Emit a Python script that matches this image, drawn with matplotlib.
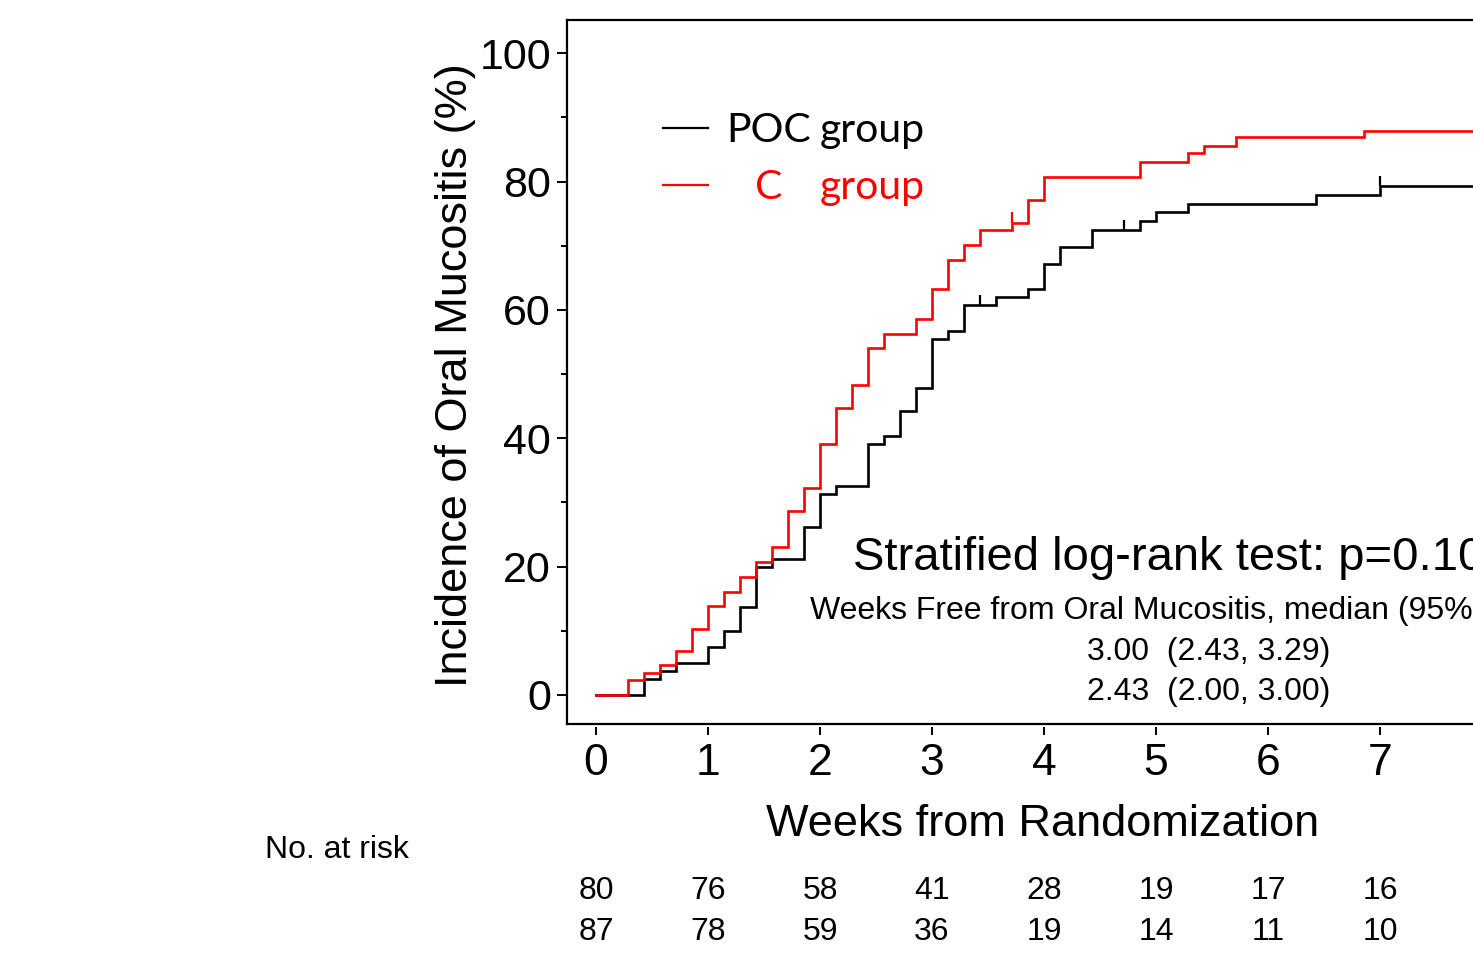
import matplotlib
matplotlib.use("Agg")
import matplotlib.pyplot as plt
import numpy as np
from matplotlib.lines import Line2D

# ---------------- data ----------------
# event days (since randomization) and cumulative incidence (%)
poc_days = [0, 3, 4, 5, 7, 8, 9, 10, 11, 13, 14, 15, 17, 18, 19, 20, 21, 22, 23,
            25, 27, 28, 29, 31, 34, 35, 37, 45, 49, 58]
poc_inc = [0, 2.5, 3.75, 5.0, 7.5, 10.0, 13.75, 20.0, 21.2, 26.2, 31.3, 32.6, 39.1,
           40.4, 44.2, 47.9, 55.4, 56.8, 60.7, 62.1, 63.3, 67.2, 69.8, 72.5, 73.8,
           75.2, 76.5, 77.9, 79.3, 79.3]
c_days = [0, 2, 3, 4, 5, 6, 7, 8, 9, 10, 11, 12, 13, 14, 15, 16, 17, 18, 20, 21,
          22, 23, 24, 26, 27, 28, 34, 37, 38, 40, 48, 58]
c_inc = [0, 2.3, 3.4, 4.6, 6.9, 10.3, 13.8, 16.1, 18.4, 20.7, 23.0, 28.7, 32.2,
         39.1, 44.8, 48.3, 54.0, 56.3, 58.6, 63.2, 67.8, 70.1, 72.4, 73.6, 77.2,
         80.8, 83.1, 84.4, 85.6, 86.9, 87.9, 87.9]
# censored observations
poc_cens_days = [24, 33, 49]
poc_cens_inc = [60.7, 72.5, 79.3]
c_cens_days = [26]
c_cens_inc = [73.6]

xticks = [0, 1, 2, 3, 4, 5, 6, 7]
yticks = [0, 20, 40, 60, 80, 100]
risk_poc = [80, 76, 58, 41, 28, 19, 17, 16]
risk_c = [87, 78, 59, 36, 19, 14, 11, 10]

legend_labels = ["POC", "C"]
stat_text = "Stratified log-rank test: p=0.10"
median_header = "Weeks Free from Oral Mucositis, median (95% CI)"
median_rows = ["3.00  (2.43, 3.29)", "2.43  (2.00, 3.00)"]

# ---------------- figure ----------------
W, H = 1473, 955
fig = plt.figure(figsize=(W / 100, H / 100), dpi=100)
FONT = "Liberation Sans"
plt.rcParams["font.family"] = FONT


def fx(x):
    return x / W


def fy(y):
    return 1 - y / H


left_px, top_px, bot_px = 567, 20, 724
xmin = -29 / 112
xmax = xmin + 952 / 112
ax = fig.add_axes([fx(left_px), fy(bot_px), (952) / W, (bot_px - top_px) / H])
ax.set_xlim(xmin, xmax)
ymin = (695 - 724) / 6.417
ymax = (695 - 20) / 6.417
ax.set_ylim(ymin, ymax)

poc_w = np.array(poc_days) / 7.0
c_w = np.array(c_days) / 7.0
ax.step(poc_w, poc_inc, where="post", color="black", lw=1.9, solid_joinstyle="miter")
ax.step(c_w, c_inc, where="post", color="#ff0000", lw=1.9, solid_joinstyle="miter")
ch = 1.6
ax.vlines(np.array(poc_cens_days) / 7.0, poc_cens_inc, np.array(poc_cens_inc) + ch,
          color="black", lw=1.6)
ax.vlines(np.array(c_cens_days) / 7.0, c_cens_inc, np.array(c_cens_inc) + ch,
          color="#ff0000", lw=1.6)

# spines / ticks
for s in ["left", "top", "right"]:
    ax.spines[s].set_linewidth(1.6)
ax.spines["bottom"].set_visible(False)
ax.spines["bottom"].set_position(("outward", 2.0))
ax.plot([0, 1], [0, 0], transform=ax.transAxes, color="black", lw=1.6,
        clip_on=False, solid_capstyle="projecting")

ax.set_xticks(xticks)
ax.set_xticklabels([str(t) for t in xticks])
ax.set_yticks(yticks)
ax.set_yticks([10, 30, 50, 70, 90], minor=True)
ax.tick_params(axis="x", direction="out", length=5.5, width=1.4, pad=6,
               labelsize=32)
ax.tick_params(axis="y", which="major", direction="out", length=7.5, width=1.4,
               pad=4, labelsize=31)
ax.tick_params(axis="y", which="minor", direction="out", length=4.3, width=1.4)

# axis labels
fig.text(fx(1043), fy(836), "Weeks from Randomization", fontsize=32.5,
         ha="center", va="baseline")
fig.text(fx(456), fy(375), "Incidence of Oral Mucositis (%)", fontsize=32.5,
         rotation=90, ha="center", va="center")

# legend (manual)
for lab, col, ly, base in [(legend_labels[0], "black", 128, 142),
                           (legend_labels[1], "#ff0000", 185, 199)]:
    fig.add_artist(Line2D([fx(663), fx(708)], [fy(ly), fy(ly)], color=col, lw=1.6))
    fig.text(fx(769), fy(base), lab, fontsize=29.5, family="Lato", color=col,
             ha="center", va="baseline")
    fig.text(fx(820), fy(base), "group", fontsize=29.5, family="Lato", color=col,
             ha="left", va="baseline")

# statistics text (runs past the right edge, as in the reference)
fig.text(fx(853), fy(570), stat_text, fontsize=34, ha="left", va="baseline")
fig.text(fx(810), fy(619), median_header, fontsize=23, ha="left", va="baseline")
fig.text(fx(1087), fy(660), median_rows[0], fontsize=23, ha="left", va="baseline")
fig.text(fx(1087), fy(700), median_rows[1], fontsize=23, ha="left", va="baseline")

# number at risk
fig.text(fx(265), fy(858), "No. at risk", fontsize=23, ha="left", va="baseline")
for t, a, b in zip(xticks, risk_poc, risk_c):
    xd = ax.transData.transform((t, 0))[0]
    xf = xd / W
    fig.text(xf, fy(899), str(a), fontsize=23, ha="center", va="baseline")
    fig.text(xf, fy(940), str(b), fontsize=23, ha="center", va="baseline")

fig.savefig("out.png", dpi=100)
